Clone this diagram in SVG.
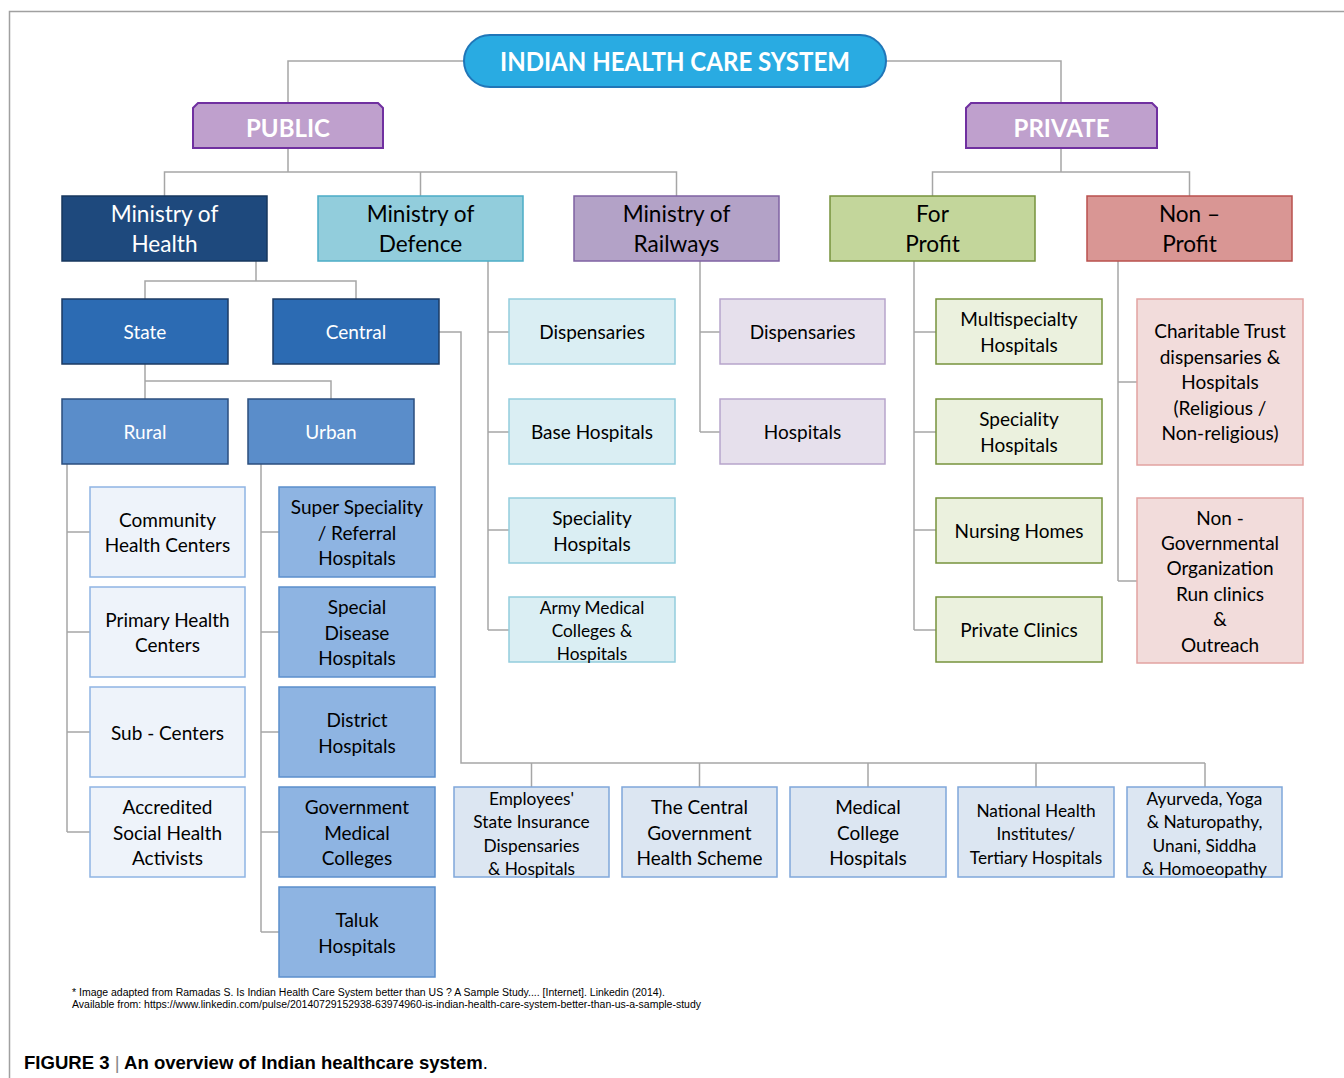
<svg xmlns="http://www.w3.org/2000/svg" width="1344" height="1078" viewBox="0 0 1344 1078">
<style>
text{font-family:Lato,"Open Sans","DejaVu Sans",sans-serif;text-anchor:middle;fill:#000}
.t18{font-size:19px}
.t17{font-size:17.3px}
.t22{font-size:22.6px}
.w{fill:#fff}
.con{fill:none;stroke:#A6A6A6;stroke-width:1.5}
.moh{fill:#1E497D;stroke:#17375E;stroke-width:1.5}
.mod{fill:#92CDDC;stroke:#4BACC6;stroke-width:1.5}
.mor{fill:#B3A2C7;stroke:#7F62A3;stroke-width:1.5}
.fp{fill:#C3D69B;stroke:#77933C;stroke-width:1.5}
.np{fill:#D99694;stroke:#B9504D;stroke-width:1.5}
.sc{fill:#2C6BB3;stroke:#1B3A63;stroke-width:1.5}
.ru{fill:#5A8DCA;stroke:#2B4E7E;stroke-width:1.5}
.rl{fill:#EEF3FA;stroke:#8EB4E3;stroke-width:1.5}
.ub{fill:#8EB4E2;stroke:#5B8FCC;stroke-width:1.5}
.cb{fill:#DCE6F2;stroke:#7FA7DA;stroke-width:1.5}
.db{fill:#DAEEF3;stroke:#93CDDD;stroke-width:1.5}
.rb{fill:#E6E0EC;stroke:#B7A5CB;stroke-width:1.5}
.fb{fill:#EBF1DE;stroke:#77933C;stroke-width:1.5}
.nb{fill:#F2DCDB;stroke:#E2A3A1;stroke-width:1.5}
.hd{fill:#BFA0CD;stroke:#7030A0;stroke-width:2}
</style>
<rect x="0" y="0" width="1344" height="1078" fill="#fff"/>
<path d="M9.5,1078 V11.5 H1344" fill="none" stroke="#A0A0A0" stroke-width="1.5"/>

<g id="connectors">
<path class="con" d="M464,61 H288 V103 M886,61 H1061 V103"/>
<path class="con" d="M288,148 V172 M164.5,196 V172 H676.5 V196 M420.5,172 V196"/>
<path class="con" d="M1061,148 V172 M932.5,196 V172 H1189.5 V196"/>
<path class="con" d="M256,261 V281 M145,299 V281 H356 V299"/>
<path class="con" d="M145,364 V381 M145,399 V381 H331 V399"/>
<path class="con" d="M67,464 V832 M67,532 H90 M67,632 H90 M67,732 H90 M67,832 H90"/>
<path class="con" d="M261,464 V932 M261,532 H279 M261,632 H279 M261,732 H279 M261,832 H279 M261,932 H279"/>
<path class="con" d="M439,332 H461 V763 H1205 M531.5,763 V787 M699.5,763 V787 M868,763 V787 M1036,763 V787 M1205,763 V787"/>
<path class="con" d="M488,261 V630 M488,332 H509 M488,432 H509 M488,530 H509 M488,630 H509"/>
<path class="con" d="M700,261 V432 M700,332 H720 M700,432 H720"/>
<path class="con" d="M914,261 V630 M914,332 H936 M914,432 H936 M914,530 H936 M914,630 H936"/>
<path class="con" d="M1118,261 V581 M1118,382 H1137 M1118,581 H1137"/>
</g>

<g id="title">
<rect x="464" y="35" width="422" height="52" rx="26" fill="#29ABE2" stroke="#2076B8" stroke-width="2"/>
<text x="675" y="71" class="w" style="font-size:26px;font-weight:bold" textLength="350" lengthAdjust="spacingAndGlyphs">INDIAN HEALTH CARE SYSTEM</text>
</g>

<g id="public">
<path class="hd" d="M198,103 H378 L383,108 V148 H193 V108 Z"/>
<text x="288" y="137" class="w" style="font-size:24px;font-weight:bold">PUBLIC</text>
</g>
<g id="private">
<path class="hd" d="M971,103 H1152 L1157,108 V148 H966 V108 Z"/>
<text x="1061.5" y="137" class="w" style="font-size:24px;font-weight:bold">PRIVATE</text>
</g>

<g id="ministry-health">
<rect class="moh" x="62" y="196" width="205" height="65"/>
<text class="t22 w"><tspan x="164.5" y="222">Ministry of</tspan><tspan x="164.5" y="252">Health</tspan></text>
</g>
<g id="ministry-defence">
<rect class="mod" x="318" y="196" width="205" height="65"/>
<text class="t22"><tspan x="420.5" y="222">Ministry of</tspan><tspan x="420.5" y="252">Defence</tspan></text>
</g>
<g id="ministry-railways">
<rect class="mor" x="574" y="196" width="205" height="65"/>
<text class="t22"><tspan x="676.5" y="222">Ministry of</tspan><tspan x="676.5" y="252">Railways</tspan></text>
</g>
<g id="for-profit">
<rect class="fp" x="830" y="196" width="205" height="65"/>
<text class="t22"><tspan x="932.5" y="222">For</tspan><tspan x="932.5" y="252">Profit</tspan></text>
</g>
<g id="non-profit">
<rect class="np" x="1087" y="196" width="205" height="65"/>
<text class="t22"><tspan x="1189.5" y="222">Non –</tspan><tspan x="1189.5" y="252">Profit</tspan></text>
</g>

<g id="state">
<rect class="sc" x="62" y="299" width="166" height="65"/>
<text class="t18 w" x="145" y="339">State</text>
</g>
<g id="central">
<rect class="sc" x="273" y="299" width="166" height="65"/>
<text class="t18 w" x="356" y="339">Central</text>
</g>
<g id="rural">
<rect class="ru" x="62" y="399" width="166" height="65"/>
<text class="t18 w" x="145" y="439">Rural</text>
</g>
<g id="urban">
<rect class="ru" x="248" y="399" width="166" height="65"/>
<text class="t18 w" x="331" y="439">Urban</text>
</g>

<g id="chc">
<rect class="rl" x="90" y="487" width="155" height="90"/>
<text class="t18"><tspan x="167.5" y="527">Community</tspan><tspan x="167.5" y="552">Health Centers</tspan></text>
</g>
<g id="phc">
<rect class="rl" x="90" y="587" width="155" height="90"/>
<text class="t18"><tspan x="167.5" y="627">Primary Health</tspan><tspan x="167.5" y="652">Centers</tspan></text>
</g>
<g id="subcenters">
<rect class="rl" x="90" y="687" width="155" height="90"/>
<text class="t18" x="167.5" y="740">Sub - Centers</text>
</g>
<g id="asha">
<rect class="rl" x="90" y="787" width="155" height="90"/>
<text class="t18"><tspan x="167.5" y="814">Accredited</tspan><tspan x="167.5" y="840">Social Health</tspan><tspan x="167.5" y="865">Activists</tspan></text>
</g>

<g id="super-speciality">
<rect class="ub" x="279" y="487" width="156" height="90"/>
<text class="t18"><tspan x="357" y="514">Super Speciality</tspan><tspan x="357" y="540">/ Referral</tspan><tspan x="357" y="565">Hospitals</tspan></text>
</g>
<g id="special-disease">
<rect class="ub" x="279" y="587" width="156" height="90"/>
<text class="t18"><tspan x="357" y="614">Special</tspan><tspan x="357" y="640">Disease</tspan><tspan x="357" y="665">Hospitals</tspan></text>
</g>
<g id="district">
<rect class="ub" x="279" y="687" width="156" height="90"/>
<text class="t18"><tspan x="357" y="727">District</tspan><tspan x="357" y="753">Hospitals</tspan></text>
</g>
<g id="gmc">
<rect class="ub" x="279" y="787" width="156" height="90"/>
<text class="t18"><tspan x="357" y="814">Government</tspan><tspan x="357" y="840">Medical</tspan><tspan x="357" y="865">Colleges</tspan></text>
</g>
<g id="taluk">
<rect class="ub" x="279" y="887" width="156" height="90"/>
<text class="t18"><tspan x="357" y="927">Taluk</tspan><tspan x="357" y="953">Hospitals</tspan></text>
</g>

<g id="def-dispensaries">
<rect class="db" x="509" y="299" width="166" height="65"/>
<text class="t18" x="592" y="339">Dispensaries</text>
</g>
<g id="def-base">
<rect class="db" x="509" y="399" width="166" height="65"/>
<text class="t18" x="592" y="439">Base Hospitals</text>
</g>
<g id="def-speciality">
<rect class="db" x="509" y="498" width="166" height="65"/>
<text class="t18"><tspan x="592" y="525">Speciality</tspan><tspan x="592" y="551">Hospitals</tspan></text>
</g>
<g id="def-army">
<rect class="db" x="509" y="597" width="166" height="65"/>
<text class="t17"><tspan x="592" y="614">Army Medical</tspan><tspan x="592" y="637">Colleges &amp;</tspan><tspan x="592" y="660">Hospitals</tspan></text>
</g>

<g id="rail-dispensaries">
<rect class="rb" x="720" y="299" width="165" height="65"/>
<text class="t18" x="802.5" y="339">Dispensaries</text>
</g>
<g id="rail-hospitals">
<rect class="rb" x="720" y="399" width="165" height="65"/>
<text class="t18" x="802.5" y="439">Hospitals</text>
</g>

<g id="multispecialty">
<rect class="fb" x="936" y="299" width="166" height="65"/>
<text class="t18"><tspan x="1019" y="326">Multispecialty</tspan><tspan x="1019" y="352">Hospitals</tspan></text>
</g>
<g id="fp-speciality">
<rect class="fb" x="936" y="399" width="166" height="65"/>
<text class="t18"><tspan x="1019" y="426">Speciality</tspan><tspan x="1019" y="452">Hospitals</tspan></text>
</g>
<g id="nursing-homes">
<rect class="fb" x="936" y="498" width="166" height="65"/>
<text class="t18" x="1019" y="538">Nursing Homes</text>
</g>
<g id="private-clinics">
<rect class="fb" x="936" y="597" width="166" height="65"/>
<text class="t18" x="1019" y="637">Private Clinics</text>
</g>

<g id="charitable">
<rect class="nb" x="1137" y="299" width="166" height="166"/>
<text class="t18"><tspan x="1220" y="338">Charitable Trust</tspan><tspan x="1220" y="364">dispensaries &amp;</tspan><tspan x="1220" y="389">Hospitals</tspan><tspan x="1220" y="415">(Religious /</tspan><tspan x="1220" y="440">Non-religious)</tspan></text>
</g>
<g id="ngo">
<rect class="nb" x="1137" y="498" width="166" height="165"/>
<text class="t18"><tspan x="1220" y="525">Non -</tspan><tspan x="1220" y="550">Governmental</tspan><tspan x="1220" y="575">Organization</tspan><tspan x="1220" y="601">Run clinics</tspan><tspan x="1220" y="626">&amp;</tspan><tspan x="1220" y="652">Outreach</tspan></text>
</g>

<g id="esi">
<rect class="cb" x="454" y="787" width="155" height="90"/>
<text class="t17"><tspan x="531.5" y="805">Employees'</tspan><tspan x="531.5" y="828">State Insurance</tspan><tspan x="531.5" y="852">Dispensaries</tspan><tspan x="531.5" y="875">&amp; Hospitals</tspan></text>
</g>
<g id="cghs">
<rect class="cb" x="622" y="787" width="155" height="90"/>
<text class="t18"><tspan x="699.5" y="814">The Central</tspan><tspan x="699.5" y="840">Government</tspan><tspan x="699.5" y="865">Health Scheme</tspan></text>
</g>
<g id="mch">
<rect class="cb" x="790" y="787" width="156" height="90"/>
<text class="t18"><tspan x="868" y="814">Medical</tspan><tspan x="868" y="840">College</tspan><tspan x="868" y="865">Hospitals</tspan></text>
</g>
<g id="nhi">
<rect class="cb" x="958" y="787" width="156" height="90"/>
<text class="t17"><tspan x="1036" y="817">National Health</tspan><tspan x="1036" y="840">Institutes/</tspan><tspan x="1036" y="864">Tertiary Hospitals</tspan></text>
</g>
<g id="ayush">
<rect class="cb" x="1127" y="787" width="155" height="90"/>
<text class="t17"><tspan x="1204.5" y="805">Ayurveda, Yoga</tspan><tspan x="1204.5" y="828">&amp; Naturopathy,</tspan><tspan x="1204.5" y="852">Unani, Siddha</tspan><tspan x="1204.5" y="875">&amp; Homoeopathy</tspan></text>
</g>

<g id="footnote">
<text x="72" y="996" style="text-anchor:start;font-family:'Liberation Sans',Arial,sans-serif;font-size:10px" fill="#222" textLength="593" lengthAdjust="spacingAndGlyphs">* Image adapted from Ramadas S. Is Indian Health Care System better than US ? A Sample Study.... [Internet]. Linkedin (2014).</text>
<text x="72" y="1008" style="text-anchor:start;font-family:'Liberation Sans',Arial,sans-serif;font-size:10px" fill="#222" textLength="629" lengthAdjust="spacingAndGlyphs">Available from: https://www.linkedin.com/pulse/20140729152938-63974960-is-indian-health-care-system-better-than-us-a-sample-study</text>
</g>
<g id="caption">
<text x="24" y="1069" style="text-anchor:start;font-family:'Liberation Sans',Arial,sans-serif;font-size:18px" fill="#231F20" textLength="464" lengthAdjust="spacingAndGlyphs"><tspan font-weight="bold">FIGURE 3 </tspan><tspan fill="#888">|</tspan><tspan font-weight="bold"> An overview of Indian healthcare system</tspan>.</text>
</g>
</svg>
